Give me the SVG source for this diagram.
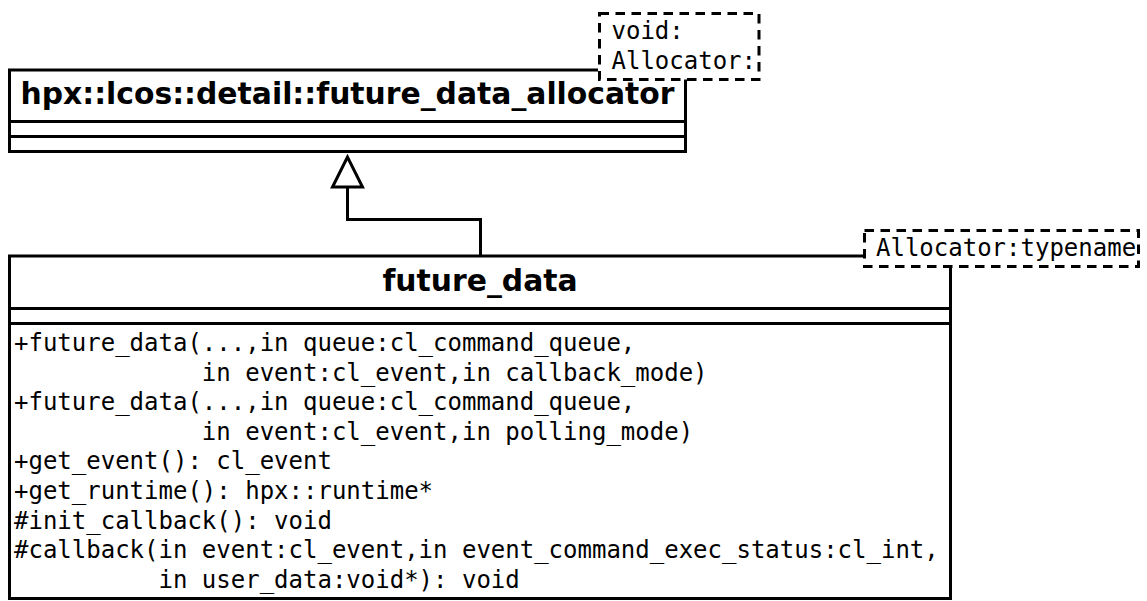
<svg xmlns="http://www.w3.org/2000/svg" width="1147" height="601" viewBox="0 0 1147 601">
  <style>
    .frame { fill: none; stroke: #000; stroke-width: 3; }
    .tmpl { fill: #fff; stroke: #000; stroke-width: 3; stroke-dasharray: 9.5 6.5; }
    .title { font-family: "DejaVu Sans", sans-serif; font-weight: bold; font-size: 29.8px; fill: #000; }
    .mono { font-family: "DejaVu Sans Mono", monospace; font-size: 24px; fill: #000; white-space: pre; }
    .edge { fill: none; stroke: #000; stroke-width: 3; }
  </style>
  <rect width="1147" height="601" fill="#fff"/>

  <!-- base class: hpx::lcos::detail::future_data_allocator -->
  <g id="node-future-data-allocator">
    <polyline class="frame" points="598,70 9.5,70 9.5,151.5 685.5,151.5 685.5,79"/>
    <line class="frame" x1="9.5" y1="121.5" x2="685.5" y2="121.5"/>
    <line class="frame" x1="9.5" y1="136.5" x2="685.5" y2="136.5"/>
    <text class="title" x="347.5" y="104" text-anchor="middle">hpx::lcos::detail::future_data_allocator</text>
    <rect class="tmpl" x="599.5" y="13.5" width="159.5" height="66"/>
    <text class="mono" x="611.5" y="38.5">void:</text>
    <text class="mono" x="611.5" y="68.5">Allocator:</text>
  </g>

  <!-- derived class: future_data -->
  <g id="node-future-data">
    <polyline class="frame" points="864,256 9.5,256 9.5,598.5 950.5,598.5 950.5,267"/>
    <line class="frame" x1="9.5" y1="308.5" x2="950.5" y2="308.5"/>
    <line class="frame" x1="9.5" y1="323.5" x2="950.5" y2="323.5"/>
    <text class="title" x="480" y="291" text-anchor="middle">future_data</text>
    <rect class="tmpl" x="864.5" y="230.5" width="274" height="36"/>
    <text class="mono" x="876" y="256">Allocator:typename</text>
    <text class="mono" x="14" y="351">+future_data(...,in queue:cl_command_queue,</text>
    <text class="mono" x="14" y="380.6">             in event:cl_event,in callback_mode)</text>
    <text class="mono" x="14" y="410.2">+future_data(...,in queue:cl_command_queue,</text>
    <text class="mono" x="14" y="439.8">             in event:cl_event,in polling_mode)</text>
    <text class="mono" x="14" y="469.4">+get_event(): cl_event</text>
    <text class="mono" x="14" y="499">+get_runtime(): hpx::runtime*</text>
    <text class="mono" x="14" y="528.6">#init_callback(): void</text>
    <text class="mono" x="14" y="558.2">#callback(in event:cl_event,in event_command_exec_status:cl_int,</text>
    <text class="mono" x="14" y="587.8">          in user_data:void*): void</text>
  </g>

  <!-- inheritance connector -->
  <g id="connectors">
    <polyline class="edge" points="480.5,256 480.5,219.5 347.5,219.5 347.5,187"/>
    <polygon class="edge" fill="#fff" points="347.5,157 332.5,187 362.5,187"/>
  </g>
</svg>
